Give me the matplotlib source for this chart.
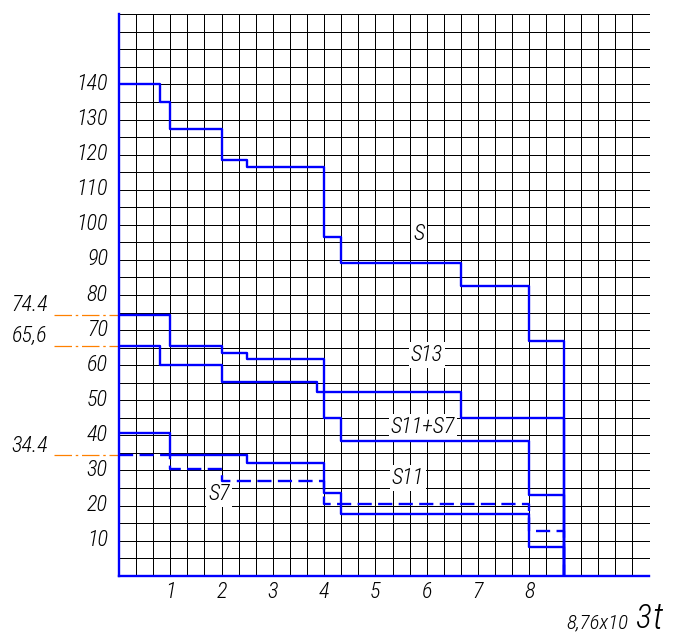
import matplotlib
matplotlib.use('Agg')
import matplotlib.pyplot as plt
import numpy as np
from matplotlib import font_manager
from matplotlib.transforms import ScaledTranslation, blended_transform_factory

# ---------------- data ----------------
breaks = [0, 0.8, 1, 2, 2.5, 3.87, 4, 4.33, 6.67, 8, 8.67]
S     = [140, 135, 127.3, 118.5, 116.4, 116.4, 96.6, 89.1, 82.7, 66.8]
S13   = [65.6, 60, 60, 55.2, 55.2, 52.3, 52.3, 52.3, 45, 45]
S11S7 = [74.4, 74.4, 65.6, 63.4, 61.7, 61.7, 45, 38.3, 38.3, 23.1]
S11   = [40.6, 40.6, 34.4, 34.4, 32.2, 32.2, 23.5, 17.5, 17.5, 8.3]
S7    = [34.4, 34.4, 30.4, 27.0, 27.0, 27.0, 20.3, 20.3, 20.3, 12.7]

x_ticks = [1, 2, 3, 4, 5, 6, 7, 8]
y_ticks = [10, 20, 30, 40, 50, 60, 70, 80, 90, 100, 110, 120, 130, 140]
annot_vals = [74.4, 65.6, 34.4]
annot_texts = ['74.4', '65,6', '34.4']
series_names = ['S', 'S13', 'S11+S7', 'S11', 'S7']
series_label_x = [5.85, 6.0, 5.93, 5.63, 1.95]
series_label_y = [97.4, 62.9, 42.4, 27.8, 23.3]

# ---------------- fonts ----------------
names = {f.name for f in font_manager.fontManager.ttflist}
FAM = ['DejaVu Sans']
STRETCH = 'condensed'
for cand in ['Roboto Condensed', 'Liberation Sans Narrow', 'Open Sans Condensed']:
    if cand in names:
        FAM = [cand, 'DejaVu Sans']
        STRETCH = 'normal'
        break
TXT = dict(family=FAM, style='italic', fontstretch=STRETCH, color='black',
           fontweight='light')

BLUE = '#0000FF'
ORANGE = '#FF8000'

W, H = 674, 638
fig = plt.figure(figsize=(W / 100, H / 100), dpi=100)
ax = fig.add_axes([119 / W, (H - 575.7) / H, 530 / W, 561.4 / H])

XMAX = 31 / 3
YMAX = 160
ax.set_xlim(0, XMAX)
ax.set_ylim(0, YMAX)

# grid
for k in range(1, 31):
    ax.plot([k / 3, k / 3], [0, YMAX], color='black', lw=0.72, zorder=1,
            clip_on=False, antialiased=False)
for j in range(1, 33):
    ax.plot([0, XMAX], [5 * j, 5 * j], color='black', lw=0.72, zorder=1,
            clip_on=False, antialiased=False)

# spines
for s in ['top', 'right']:
    ax.spines[s].set_visible(False)
for s in ['left', 'bottom']:
    ax.spines[s].set_color(BLUE)
    ax.spines[s].set_linewidth(1.7)
    ax.spines[s].set_zorder(5)

# step lines
def stepline(vals, **kw):
    ax.plot(breaks, list(vals) + [0], drawstyle='steps-post', color=BLUE,
            lw=1.7, zorder=4, **kw)

stepline(S)
stepline(S13)
stepline(S11S7)
stepline(S11)
stepline(S7, linestyle=(0, (6, 2.7)))

# ticks
ax.set_xticks(x_ticks)
ax.set_xticklabels([str(v) for v in x_ticks], **TXT)
ax.set_yticks(y_ticks)
ax.set_yticklabels([str(v) for v in y_ticks], **TXT)
ax.tick_params(axis='both', length=0, labelsize=16)
ax.tick_params(axis='y', pad=8)
ax.tick_params(axis='x', pad=4)
off = ScaledTranslation(0, 3 / 100, fig.dpi_scale_trans)
for lab in ax.get_yticklabels():
    lab.set_transform(lab.get_transform() + off)

# annotations with orange dash-dot leaders
bt = blended_transform_factory(ax.transAxes, ax.transData)
for v, t in zip(annot_vals, annot_texts):
    ax.plot([-65 / 530, 0], [v, v], transform=bt, color=ORANGE, lw=0.9,
            linestyle=(0, (14, 3, 2, 3)), clip_on=False, zorder=2)
    ax.text(-71 / 530, v + 0.9, t, transform=bt, ha='right', va='baseline',
            fontsize=16, **TXT)

# series labels
for n, x, y in zip(series_names, series_label_x, series_label_y):
    ax.text(x, y, n, ha='center', va='center', fontsize=16, zorder=3,
            bbox=dict(facecolor='white', edgecolor='none', pad=1.5), **TXT)

# x-axis unit label
fig.text(566 / W, 1 - 628 / H, '8,76x10', ha='left', va='baseline', fontsize=15, **TXT)
fig.text(635 / W, 1 - 628 / H, '3', ha='left', va='baseline', fontsize=24, **TXT)
fig.text(652 / W, 1 - 629 / H, 't', ha='left', va='baseline', fontsize=26, **TXT)

fig.savefig('out.png', dpi=100)
